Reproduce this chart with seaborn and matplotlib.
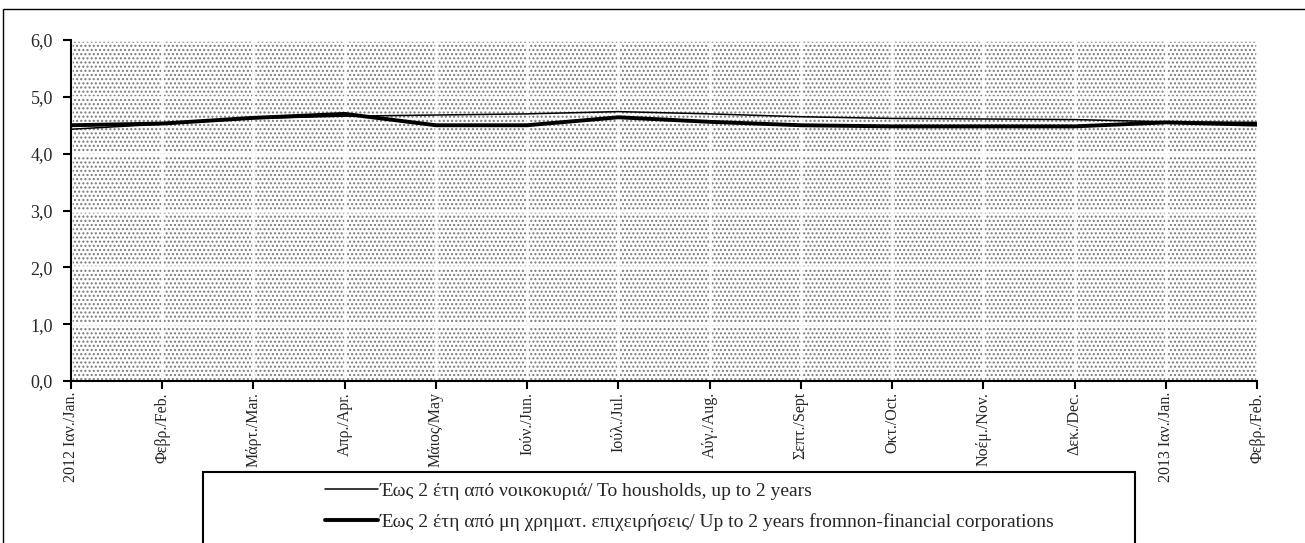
import numpy as np
import pandas as pd
import seaborn as sns
import matplotlib.pyplot as plt
from matplotlib.patches import Rectangle
from matplotlib.ticker import FuncFormatter

# μήνες / months
months = ["2012 Ιαν./Jan.", "Φεβρ./Feb.", "Μάρτ./Mar.", "Απρ./Apr.", "Μάιος/May",
          "Ιούν./Jun.", "Ιούλ./Jul.", "Αύγ./Aug.", "Σεπτ./Sept", "Οκτ./Oct.",
          "Νοέμ./Nov.", "Δεκ./Dec.", "2013 Ιαν./Jan.", "Φεβρ./Feb."]
households = [4.43, 4.52, 4.62, 4.66, 4.68, 4.70, 4.74, 4.70, 4.65, 4.62, 4.61, 4.60, 4.56, 4.55]
corporations = [4.50, 4.53, 4.63, 4.70, 4.50, 4.50, 4.64, 4.56, 4.50, 4.48, 4.48, 4.48, 4.55, 4.51]
label_hh = "Έως 2 έτη από νοικοκυριά/ To housholds, up to 2 years"
label_corp = "Έως 2 έτη από μη χρηματ. επιχειρήσεις/ Up to 2 years fromnon-financial corporations"

sns.set_theme(style="white")
plt.rcParams['font.family'] = ['Liberation Serif', 'DejaVu Serif']
plt.rcParams['font.size'] = 11
plt.rcParams['hatch.linewidth'] = 1.0

fig = plt.figure(figsize=(13.05, 5.43), dpi=100)
ax = fig.add_axes([71 / 1305, 1 - 381 / 543, (1257 - 71) / 1305, (381 - 40) / 543])

x = np.arange(len(months))
sns.lineplot(x=x, y=households, ax=ax, color="black", linewidth=1.1, label=label_hh, zorder=3)
sns.lineplot(x=x, y=corporations, ax=ax, color="black", linewidth=2.8, label=label_corp, zorder=3)

# dotted background + white grid
ax.set_facecolor("white")
bg = Rectangle((0, 0), 1, 1, transform=ax.transAxes, facecolor="white",
               edgecolor="#7a7a7a", hatch="....", linewidth=0, zorder=0.2)
ax.add_patch(bg)
ax.set_axisbelow(True)
ax.grid(True, color="white", linewidth=1.8)

ax.set_xlim(0, len(months) - 1)
ax.set_ylim(0, 6)
ax.set_yticks(np.arange(0, 7, 1))
ax.yaxis.set_major_formatter(FuncFormatter(lambda v, p: f"{v:.1f}".replace(".", ",")))
ax.set_xticks(x)
ax.set_xticklabels(months, rotation=90, va="top")
ax.tick_params(axis="both", direction="out", length=6, width=1.5, color="black", left=True, bottom=True)
ax.tick_params(axis="x", labelsize=11.5, pad=2)
ax.tick_params(axis="y", labelsize=13, pad=7)
for s in ["top", "right"]:
    ax.spines[s].set_visible(False)
for s in ["left", "bottom"]:
    ax.spines[s].set_color("black")
    ax.spines[s].set_linewidth(1.5)

# legend: frame drawn separately
handles, labels = ax.get_legend_handles_labels()
ax.get_legend().remove()
fig.add_artist(Rectangle((203 / 1305, -0.05), (1135 - 203) / 1305, 0.05 + 1 - 472 / 543,
                         transform=fig.transFigure, fill=False, edgecolor="black", linewidth=1.5))
fig.legend(handles, labels, loc="upper left", bbox_to_anchor=(325 / 1305, 1 - 482 / 543),
           frameon=False, fontsize=14, handlelength=2.7, handletextpad=0.1,
           labelspacing=0.7, borderpad=0, borderaxespad=0)

# outer frame
fig.add_artist(Rectangle((3 / 1305, -0.05), 1.1, 0.05 + 1 - 9 / 543,
                         transform=fig.transFigure, fill=False, edgecolor="black", linewidth=1))

fig.savefig("out.png", dpi=100)
